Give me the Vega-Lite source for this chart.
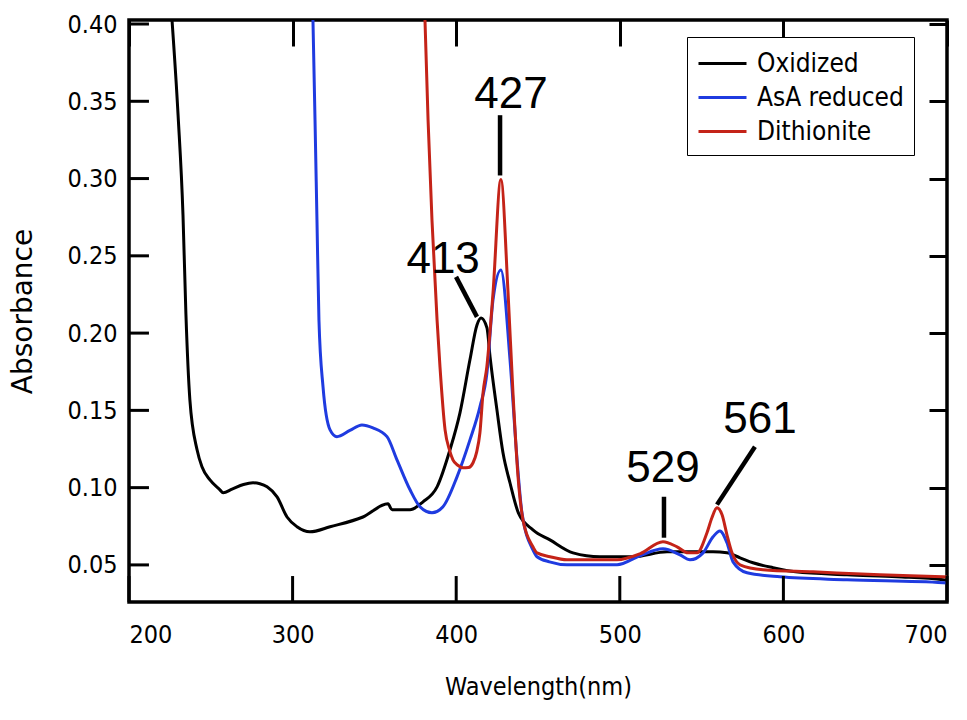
{
  "$schema": "https://vega.github.io/schema/vega-lite/v6.json",
  "width": 818,
  "height": 582,
  "autosize": {"type": "none"},
  "padding": {"left": 129, "top": 20, "right": 20, "bottom": 118},
  "background": "white",
  "config": {
    "view": {"stroke": "black", "strokeWidth": 3.5},
    "axis": {"grid": false, "domain": false, "tickColor": "black", "tickWidth": 3, "labelColor": "black", "titleColor": "black", "zindex": 1}
  },
  "datasets": {
    "spectra": [
      {"series": "Oxidized", "w": 225.8, "v": 0.41},
      {"series": "Oxidized", "w": 230.0, "v": 0.341},
      {"series": "Oxidized", "w": 233.0, "v": 0.2765},
      {"series": "Oxidized", "w": 234.8, "v": 0.212},
      {"series": "Oxidized", "w": 237.2, "v": 0.157},
      {"series": "Oxidized", "w": 241.6, "v": 0.1245},
      {"series": "Oxidized", "w": 244.6, "v": 0.1135},
      {"series": "Oxidized", "w": 249.5, "v": 0.105},
      {"series": "Oxidized", "w": 255.6, "v": 0.0986},
      {"series": "Oxidized", "w": 257.5, "v": 0.0967},
      {"series": "Oxidized", "w": 263.0, "v": 0.099},
      {"series": "Oxidized", "w": 270.0, "v": 0.102},
      {"series": "Oxidized", "w": 275.8, "v": 0.1031},
      {"series": "Oxidized", "w": 280.0, "v": 0.1025},
      {"series": "Oxidized", "w": 284.4, "v": 0.1005},
      {"series": "Oxidized", "w": 290.5, "v": 0.094},
      {"series": "Oxidized", "w": 296.6, "v": 0.081},
      {"series": "Oxidized", "w": 302.7, "v": 0.0747},
      {"series": "Oxidized", "w": 310.6, "v": 0.0714},
      {"series": "Oxidized", "w": 322.9, "v": 0.0747},
      {"series": "Oxidized", "w": 343.0, "v": 0.081},
      {"series": "Oxidized", "w": 358.3, "v": 0.0895},
      {"series": "Oxidized", "w": 360.8, "v": 0.0857},
      {"series": "Oxidized", "w": 371.8, "v": 0.0857},
      {"series": "Oxidized", "w": 379.7, "v": 0.0908},
      {"series": "Oxidized", "w": 388.3, "v": 0.1005},
      {"series": "Oxidized", "w": 396.2, "v": 0.1245},
      {"series": "Oxidized", "w": 402.3, "v": 0.1484},
      {"series": "Oxidized", "w": 408.4, "v": 0.1827},
      {"series": "Oxidized", "w": 412.7, "v": 0.2053},
      {"series": "Oxidized", "w": 415.2, "v": 0.2098},
      {"series": "Oxidized", "w": 418.8, "v": 0.2034},
      {"series": "Oxidized", "w": 420.7, "v": 0.1846},
      {"series": "Oxidized", "w": 424.9, "v": 0.1503},
      {"series": "Oxidized", "w": 428.6, "v": 0.1225},
      {"series": "Oxidized", "w": 432.9, "v": 0.103},
      {"series": "Oxidized", "w": 438.0, "v": 0.0837},
      {"series": "Oxidized", "w": 446.9, "v": 0.0727},
      {"series": "Oxidized", "w": 457.3, "v": 0.0662},
      {"series": "Oxidized", "w": 471.4, "v": 0.0578},
      {"series": "Oxidized", "w": 487.9, "v": 0.0553},
      {"series": "Oxidized", "w": 508.1, "v": 0.0553},
      {"series": "Oxidized", "w": 528.9, "v": 0.0585},
      {"series": "Oxidized", "w": 549.1, "v": 0.0585},
      {"series": "Oxidized", "w": 557.0, "v": 0.0585},
      {"series": "Oxidized", "w": 565.5, "v": 0.0578},
      {"series": "Oxidized", "w": 573.5, "v": 0.0546},
      {"series": "Oxidized", "w": 581.4, "v": 0.0514},
      {"series": "Oxidized", "w": 593.6, "v": 0.0482},
      {"series": "Oxidized", "w": 607.5, "v": 0.0455},
      {"series": "Oxidized", "w": 638.9, "v": 0.0436},
      {"series": "Oxidized", "w": 669.4, "v": 0.0423},
      {"series": "Oxidized", "w": 697.6, "v": 0.0404},
      {"series": "Oxidized", "w": 700.0, "v": 0.04},
      {"series": "AsA reduced", "w": 312.3, "v": 0.41},
      {"series": "AsA reduced", "w": 313.7, "v": 0.338},
      {"series": "AsA reduced", "w": 314.9, "v": 0.273},
      {"series": "AsA reduced", "w": 316.1, "v": 0.2086},
      {"series": "AsA reduced", "w": 318.6, "v": 0.1652},
      {"series": "AsA reduced", "w": 322.9, "v": 0.1374},
      {"series": "AsA reduced", "w": 327.1, "v": 0.133},
      {"series": "AsA reduced", "w": 335.0, "v": 0.137},
      {"series": "AsA reduced", "w": 342.4, "v": 0.1406},
      {"series": "AsA reduced", "w": 349.1, "v": 0.1387},
      {"series": "AsA reduced", "w": 357.7, "v": 0.133},
      {"series": "AsA reduced", "w": 363.8, "v": 0.118},
      {"series": "AsA reduced", "w": 371.8, "v": 0.0986},
      {"series": "AsA reduced", "w": 377.9, "v": 0.0876},
      {"series": "AsA reduced", "w": 385.2, "v": 0.0837},
      {"series": "AsA reduced", "w": 391.9, "v": 0.0876},
      {"series": "AsA reduced", "w": 400.5, "v": 0.107},
      {"series": "AsA reduced", "w": 408.4, "v": 0.1309},
      {"series": "AsA reduced", "w": 414.5, "v": 0.1523},
      {"series": "AsA reduced", "w": 418.8, "v": 0.1743},
      {"series": "AsA reduced", "w": 422.5, "v": 0.2215},
      {"series": "AsA reduced", "w": 427.3, "v": 0.2409},
      {"series": "AsA reduced", "w": 432.9, "v": 0.1827},
      {"series": "AsA reduced", "w": 437.2, "v": 0.118},
      {"series": "AsA reduced", "w": 440.2, "v": 0.0837},
      {"series": "AsA reduced", "w": 446.9, "v": 0.0598},
      {"series": "AsA reduced", "w": 449.4, "v": 0.0553},
      {"series": "AsA reduced", "w": 457.0, "v": 0.052},
      {"series": "AsA reduced", "w": 467.7, "v": 0.0501},
      {"series": "AsA reduced", "w": 498.3, "v": 0.0501},
      {"series": "AsA reduced", "w": 512.3, "v": 0.0559},
      {"series": "AsA reduced", "w": 526.4, "v": 0.0604},
      {"series": "AsA reduced", "w": 536.8, "v": 0.0565},
      {"series": "AsA reduced", "w": 542.9, "v": 0.0533},
      {"series": "AsA reduced", "w": 550.9, "v": 0.0578},
      {"series": "AsA reduced", "w": 557.0, "v": 0.0682},
      {"series": "AsA reduced", "w": 561.2, "v": 0.072},
      {"series": "AsA reduced", "w": 565.5, "v": 0.0643},
      {"series": "AsA reduced", "w": 569.2, "v": 0.052},
      {"series": "AsA reduced", "w": 577.8, "v": 0.0449},
      {"series": "AsA reduced", "w": 597.9, "v": 0.0423},
      {"series": "AsA reduced", "w": 638.9, "v": 0.0404},
      {"series": "AsA reduced", "w": 697.6, "v": 0.0385},
      {"series": "AsA reduced", "w": 700.0, "v": 0.0383},
      {"series": "Dithionite", "w": 380.7, "v": 0.41},
      {"series": "Dithionite", "w": 382.8, "v": 0.338},
      {"series": "Dithionite", "w": 385.2, "v": 0.273},
      {"series": "Dithionite", "w": 388.3, "v": 0.2086},
      {"series": "Dithionite", "w": 390.1, "v": 0.178},
      {"series": "Dithionite", "w": 393.2, "v": 0.1374},
      {"series": "Dithionite", "w": 396.0, "v": 0.124},
      {"series": "Dithionite", "w": 398.0, "v": 0.118},
      {"series": "Dithionite", "w": 401.0, "v": 0.1145},
      {"series": "Dithionite", "w": 404.2, "v": 0.1128},
      {"series": "Dithionite", "w": 407.5, "v": 0.113},
      {"series": "Dithionite", "w": 410.3, "v": 0.1161},
      {"series": "Dithionite", "w": 412.5, "v": 0.123},
      {"series": "Dithionite", "w": 414.5, "v": 0.1355},
      {"series": "Dithionite", "w": 416.4, "v": 0.1613},
      {"series": "Dithionite", "w": 418.7, "v": 0.178},
      {"series": "Dithionite", "w": 422.5, "v": 0.226},
      {"series": "Dithionite", "w": 427.3, "v": 0.2994},
      {"series": "Dithionite", "w": 431.7, "v": 0.226},
      {"series": "Dithionite", "w": 434.7, "v": 0.1613},
      {"series": "Dithionite", "w": 437.8, "v": 0.107},
      {"series": "Dithionite", "w": 440.8, "v": 0.0792},
      {"series": "Dithionite", "w": 446.9, "v": 0.0617},
      {"series": "Dithionite", "w": 449.4, "v": 0.0578},
      {"series": "Dithionite", "w": 457.3, "v": 0.0553},
      {"series": "Dithionite", "w": 467.7, "v": 0.0533},
      {"series": "Dithionite", "w": 498.3, "v": 0.0533},
      {"series": "Dithionite", "w": 512.3, "v": 0.0572},
      {"series": "Dithionite", "w": 526.4, "v": 0.065},
      {"series": "Dithionite", "w": 535.0, "v": 0.0617},
      {"series": "Dithionite", "w": 541.7, "v": 0.0578},
      {"series": "Dithionite", "w": 547.2, "v": 0.0578},
      {"series": "Dithionite", "w": 553.3, "v": 0.0708},
      {"series": "Dithionite", "w": 556.3, "v": 0.0805},
      {"series": "Dithionite", "w": 559.4, "v": 0.087},
      {"series": "Dithionite", "w": 562.5, "v": 0.0824},
      {"series": "Dithionite", "w": 565.5, "v": 0.0695},
      {"series": "Dithionite", "w": 568.6, "v": 0.0578},
      {"series": "Dithionite", "w": 573.5, "v": 0.0501},
      {"series": "Dithionite", "w": 587.5, "v": 0.0469},
      {"series": "Dithionite", "w": 618.1, "v": 0.0455},
      {"series": "Dithionite", "w": 659.0, "v": 0.0436},
      {"series": "Dithionite", "w": 697.6, "v": 0.0423},
      {"series": "Dithionite", "w": 700.0, "v": 0.0422}
    ],
    "annot": [
      {"label": "427", "tx": 433.5, "ty": 0.3457, "x1": 426.8, "y1": 0.341, "x2": 426.8, "y2": 0.302},
      {"label": "413", "tx": 392.0, "ty": 0.239, "x1": 399.9, "y1": 0.2364, "x2": 412.7, "y2": 0.2105},
      {"label": "529", "tx": 526.4, "ty": 0.1038, "x1": 527.0, "y1": 0.0941, "x2": 527.0, "y2": 0.0676},
      {"label": "561", "tx": 585.7, "ty": 0.1355, "x1": 582.6, "y1": 0.1264, "x2": 559.4, "y2": 0.089}
    ],
    "xticks": [{"t": 200}, {"t": 300}, {"t": 400}, {"t": 500}, {"t": 600}, {"t": 700}],
    "yticks": [{"t": 0.05}, {"t": 0.1}, {"t": 0.15}, {"t": 0.2}, {"t": 0.25}, {"t": 0.3}, {"t": 0.35}, {"t": 0.4}]
  },
  "layer": [
    {
      "data": {"name": "spectra"},
      "mark": {"type": "point", "opacity": 0},
      "encoding": {
        "x": {"field": "w", "type": "quantitative", "scale": {"domain": [200, 700], "nice": false, "zero": false},
          "axis": {"orient": "top", "values": [200, 300, 400, 500, 600, 700], "labels": false, "tickSize": -26, "title": null}},
        "y": {"field": "v", "type": "quantitative", "scale": {"domain": [0.026, 0.4026], "nice": false, "zero": false},
          "axis": {"orient": "right", "values": [0.05, 0.1, 0.15, 0.2, 0.25, 0.3, 0.35, 0.4], "labels": false, "tickSize": -18, "title": null}}
      }
    },
    {
      "data": {"name": "spectra"},
      "transform": [{"filter": "datum.series === 'Oxidized'"}],
      "mark": {"type": "line", "clip": true, "strokeWidth": 3, "interpolate": "monotone"},
      "encoding": {
        "x": {"field": "w", "type": "quantitative", "scale": {"domain": [200, 700], "nice": false, "zero": false},
          "axis": {"orient": "bottom", "values": [200, 300, 400, 500, 600, 700], "format": "d", "ticks": false, "tickSize": 0,
            "labelFont": "DejaVu Sans Condensed", "labelFontSize": 25, "labelPadding": 20,
            "title": "Wavelength(nm)", "titleFont": "DejaVu Sans Condensed", "titleFontSize": 25, "titleFontWeight": "normal", "titlePadding": 27}},
        "y": {"field": "v", "type": "quantitative", "scale": {"domain": [0.026, 0.4026], "nice": false, "zero": false},
          "axis": {"orient": "left", "values": [0.05, 0.1, 0.15, 0.2, 0.25, 0.3, 0.35, 0.4], "format": ".2f", "ticks": false, "tickSize": 0,
            "labelFont": "DejaVu Sans Condensed", "labelFontSize": 25, "labelPadding": 12,
            "title": "Absorbance", "titleFont": "DejaVu Sans", "titleFontSize": 28, "titleFontWeight": "normal", "titlePadding": 29}},
        "color": {"field": "series", "type": "nominal",
          "scale": {"domain": ["Oxidized", "AsA reduced", "Dithionite"], "range": ["#000000", "#1f3be0", "#c42318"]},
          "legend": {"orient": "none", "legendX": 558, "legendY": 17, "title": null,
            "symbolType": "M-1.6,0H1.6", "symbolSize": 900, "symbolStrokeWidth": 3, "symbolOffset": 9,
            "labelFont": "DejaVu Sans Condensed", "labelFontSize": 26, "labelOffset": 18, "labelLimit": 300,
            "rowPadding": 4, "padding": 10, "strokeColor": "black", "fillColor": "white"}}
      }
    },
    {
      "data": {"name": "spectra"},
      "transform": [{"filter": "datum.series === 'AsA reduced'"}],
      "mark": {"type": "line", "clip": true, "strokeWidth": 3, "interpolate": "monotone"},
      "encoding": {
        "x": {"field": "w", "type": "quantitative", "scale": {"domain": [200, 700], "nice": false, "zero": false}, "axis": null},
        "y": {"field": "v", "type": "quantitative", "scale": {"domain": [0.026, 0.4026], "nice": false, "zero": false}, "axis": null},
        "color": {"field": "series", "type": "nominal",
          "scale": {"domain": ["Oxidized", "AsA reduced", "Dithionite"], "range": ["#000000", "#1f3be0", "#c42318"]}}
      }
    },
    {
      "data": {"name": "spectra"},
      "transform": [{"filter": "datum.series === 'Dithionite'"}],
      "mark": {"type": "line", "clip": true, "strokeWidth": 3, "interpolate": "monotone"},
      "encoding": {
        "x": {"field": "w", "type": "quantitative", "scale": {"domain": [200, 700], "nice": false, "zero": false}, "axis": null},
        "y": {"field": "v", "type": "quantitative", "scale": {"domain": [0.026, 0.4026], "nice": false, "zero": false}, "axis": null},
        "color": {"field": "series", "type": "nominal",
          "scale": {"domain": ["Oxidized", "AsA reduced", "Dithionite"], "range": ["#000000", "#1f3be0", "#c42318"]}}
      }
    },
    {
      "data": {"name": "xticks"},
      "mark": {"type": "rule", "color": "black", "strokeWidth": 3},
      "encoding": {
        "x": {"field": "t", "type": "quantitative", "scale": {"domain": [200, 700], "nice": false, "zero": false}, "axis": null},
        "y": {"datum": 0.026, "type": "quantitative", "scale": {"domain": [0.026, 0.4026], "nice": false, "zero": false}, "axis": null},
        "y2": {"datum": 0.0428}
      }
    },
    {
      "data": {"name": "yticks"},
      "mark": {"type": "rule", "color": "black", "strokeWidth": 3},
      "encoding": {
        "x": {"datum": 200, "type": "quantitative", "scale": {"domain": [200, 700], "nice": false, "zero": false}, "axis": null},
        "x2": {"datum": 212.2},
        "y": {"field": "t", "type": "quantitative", "scale": {"domain": [0.026, 0.4026], "nice": false, "zero": false}, "axis": null}
      }
    },
    {
      "data": {"name": "annot"},
      "mark": {"type": "rule", "color": "black", "strokeWidth": 4.5},
      "encoding": {
        "x": {"field": "x1", "type": "quantitative", "scale": {"domain": [200, 700], "nice": false, "zero": false}, "axis": null},
        "y": {"field": "y1", "type": "quantitative", "scale": {"domain": [0.026, 0.4026], "nice": false, "zero": false}, "axis": null},
        "x2": {"field": "x2"},
        "y2": {"field": "y2"}
      }
    },
    {
      "data": {"name": "annot"},
      "mark": {"type": "text", "color": "black", "font": "Liberation Sans, Arial, sans-serif", "fontSize": 44, "align": "center", "baseline": "alphabetic"},
      "encoding": {
        "x": {"field": "tx", "type": "quantitative", "scale": {"domain": [200, 700], "nice": false, "zero": false}, "axis": null},
        "y": {"field": "ty", "type": "quantitative", "scale": {"domain": [0.026, 0.4026], "nice": false, "zero": false}, "axis": null},
        "text": {"field": "label"}
      }
    }
  ],
  "resolve": {"axis": {"x": "independent", "y": "independent"}}
}
